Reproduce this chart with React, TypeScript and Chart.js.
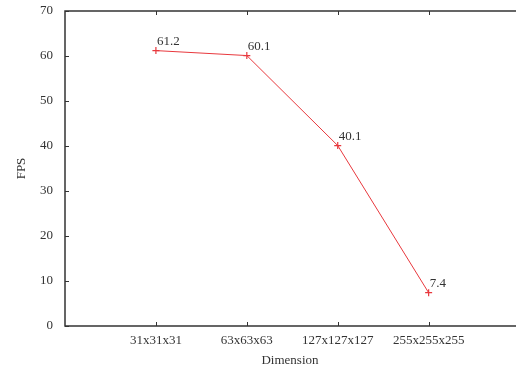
import React, { useEffect, useRef } from "react";
import { Chart, registerables } from "chart.js";

Chart.register(...registerables);

const categories = ["31x31x31", "63x63x63", "127x127x127", "255x255x255"];
const fps = [61.2, 60.1, 40.1, 7.4];
const yTicks = [0, 10, 20, 30, 40, 50, 60, 70];

const FONT = "'Liberation Serif', 'Times New Roman', serif";
const TEXT = "#333333";
const AXIS = "#333333";
const RED = "#e8383d";

const frame = {
  id: "frame",
  afterDraw(chart: any) {
    const { ctx, chartArea } = chart;
    const { left, right, top, bottom } = chartArea;
    const xs = chart.scales.x;
    const ys = chart.scales.y;
    ctx.save();
    ctx.strokeStyle = AXIS;
    ctx.lineWidth = 1.5;
    ctx.beginPath();
    ctx.moveTo(right + 2, top);
    ctx.lineTo(left, top);
    ctx.lineTo(left, bottom);
    ctx.lineTo(right + 2, bottom);
    ctx.stroke();
    ctx.lineWidth = 1;
    ctx.beginPath();
    yTicks.forEach((v) => {
      const y = Math.round(ys.getPixelForValue(v)) + 0.5;
      ctx.moveTo(left, y);
      ctx.lineTo(left + 4, y);
    });
    categories.forEach((_, i) => {
      const x = Math.round(xs.getPixelForValue(i + 1)) + 0.5;
      ctx.moveTo(x, bottom);
      ctx.lineTo(x, bottom - 4);
      ctx.moveTo(x, top);
      ctx.lineTo(x, top + 4);
    });
    ctx.stroke();
    ctx.restore();
  },
};

const valueLabels = {
  id: "valueLabels",
  afterDatasetsDraw(chart: any) {
    const { ctx } = chart;
    const meta = chart.getDatasetMeta(0);
    ctx.save();
    ctx.font = `13px ${FONT}`;
    ctx.fillStyle = TEXT;
    ctx.textAlign = "left";
    ctx.textBaseline = "middle";
    meta.data.forEach((pt: any, i: number) => {
      ctx.fillText(String(fps[i]), pt.x + 1, pt.y - 9);
    });
    ctx.restore();
  },
};

export default function App() {
  const ref = useRef<HTMLCanvasElement | null>(null);
  useEffect(() => {
    if (!ref.current) return;
    const chart = new Chart(ref.current, {
      type: "line",
      data: {
        datasets: [
          {
            data: fps.map((v, i) => ({ x: i + 1, y: v })),
            borderColor: RED,
            backgroundColor: RED,
            borderWidth: 1,
            pointStyle: "cross",
            pointRadius: 3.5,
            pointBorderWidth: 1.2,
            pointBorderColor: RED,
            tension: 0,
            fill: false,
          },
        ],
      },
      options: {
        animation: false,
        responsive: false,
        maintainAspectRatio: false,
        layout: { autoPadding: false, padding: { left: 0, right: 1, top: 11, bottom: 0 } },
        plugins: { legend: { display: false }, tooltip: { enabled: false } },
        scales: {
          x: {
            type: "linear",
            min: 0,
            max: 4.95,
            afterBuildTicks: (s: any) => {
              s.ticks = categories.map((_, i) => ({ value: i + 1 }));
            },
            afterFit: (s: any) => {
              s.height = 41;
              s.paddingLeft = 0;
              s.paddingRight = 0;
            },
            grid: { display: false, drawTicks: false },
            border: { display: false },
            ticks: {
              autoSkip: false,
              maxRotation: 0,
              padding: 7,
              color: TEXT,
              font: { family: FONT, size: 13 },
              callback: (v: any) => categories[Number(v) - 1] ?? "",
            },
            title: {
              display: true,
              text: "Dimension",
              color: TEXT,
              font: { family: FONT, size: 13 },
              padding: { top: 0, bottom: -1.5 },
            },
          },
          y: {
            type: "linear",
            min: 0,
            max: 70,
            afterBuildTicks: (s: any) => {
              s.ticks = yTicks.map((v) => ({ value: v }));
            },
            afterFit: (s: any) => {
              s.width = 65;
              s.paddingTop = 0;
              s.paddingBottom = 0;
            },
            grid: { display: false, drawTicks: false },
            border: { display: false },
            ticks: {
              padding: 12,
              color: TEXT,
              font: { family: FONT, size: 13 },
            },
            title: {
              display: true,
              text: "FPS",
              color: TEXT,
              font: { family: FONT, size: 13 },
              padding: { top: 14, bottom: 0 },
            },
          },
        },
      },
      plugins: [frame, valueLabels],
    });
    return () => chart.destroy();
  }, []);
  return (
    <div style={{ position: "fixed", left: 0, top: 0, width: 516, height: 367, background: "#fff" }}>
      <canvas ref={ref} width={516} height={367} style={{ width: 516, height: 367, display: "block" }} />
    </div>
  );
}
